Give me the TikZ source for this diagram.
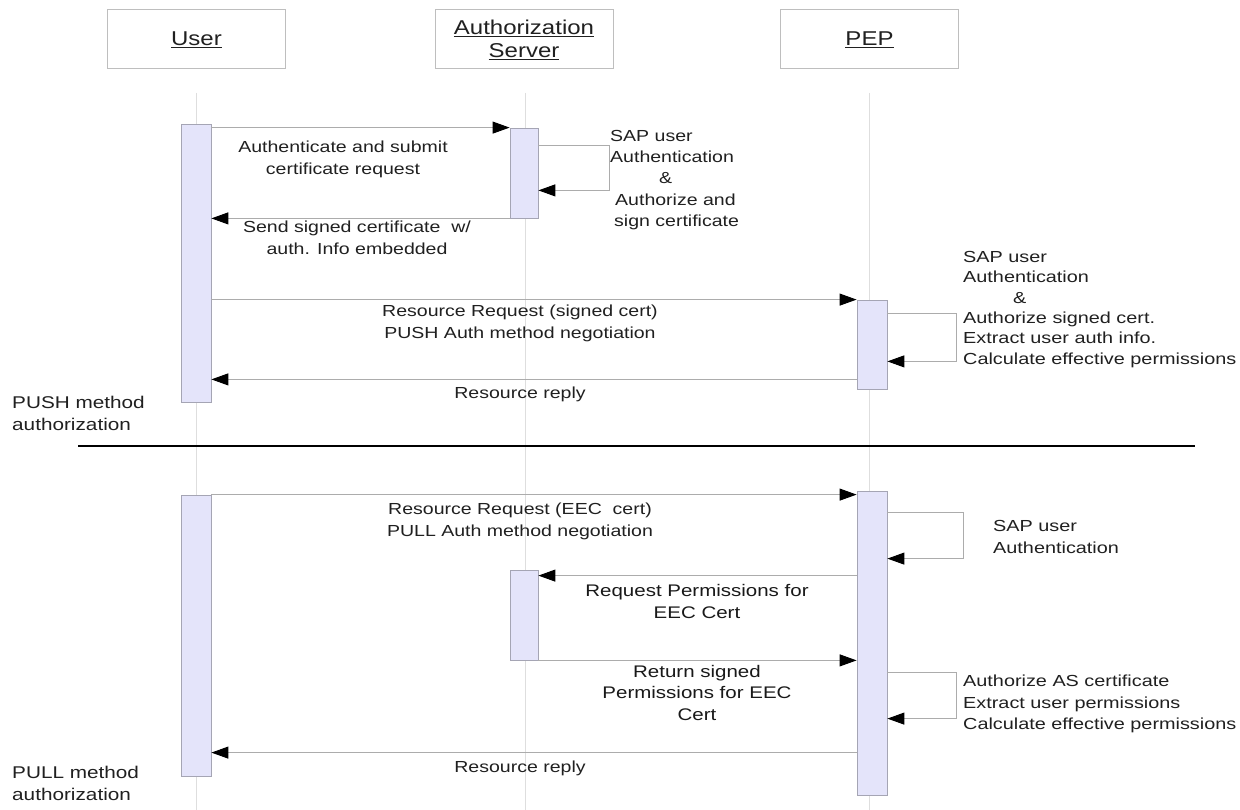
\documentclass[tikz,border=0pt]{standalone}
\usepackage{fontspec}
\setmainfont{Liberation Sans}
\newfontfamily\lblfont[FakeStretch=1.22]{Liberation Sans}
\newfontfamily\sidefont[FakeStretch=1.24]{Liberation Sans}
\newfontfamily\hdrfont[FakeStretch=1.2]{Liberation Sans}
\usetikzlibrary{arrows.meta}

\definecolor{barfill}{RGB}{228,228,250}
\definecolor{barline}{RGB}{165,165,180}
\definecolor{lifegray}{RGB}{222,222,222}
\definecolor{msggray}{RGB}{172,172,172}
\definecolor{txt}{RGB}{32,32,32}
\definecolor{boxgray}{RGB}{190,190,190}

\tikzset{
  hdrbox/.style={draw=boxgray, line width=1pt, minimum width=178pt, minimum height=59pt,
    inner sep=0pt, font=\hdrfont\fontsize{20}{23}\selectfont, text=txt, align=center},
  actbar/.style={draw=barline, fill=barfill, line width=0.8pt, minimum width=29pt, inner sep=0pt},
  lifeline/.style={draw=lifegray, line width=0.9pt},
  msg/.style={draw=msggray, line width=1pt, -{Triangle[length=17pt,width=12pt,color=black]}},
  selfmsg/.style={msg},
  lbl/.style={font=\lblfont\fontsize{16}{22}\selectfont, text=txt, inner sep=0pt, align=center, anchor=north},
  lbll/.style={lbl, align=left, anchor=north west},
  notelbl/.style={lbll, font=\sidefont\fontsize{16}{21}\selectfont},
  biglbl/.style={lbl, font=\lblfont\fontsize{16.8}{22.5}\selectfont, text=black!90},
  sidelbl/.style={lbll, font=\lblfont\fontsize{17}{22}\selectfont},
  divider/.style={draw=black, line width=1.8pt}
}

\begin{document}
\begin{tikzpicture}[x=1pt,y=-1pt]
\useasboundingbox (0,0) rectangle (1240,810);
\fill[white] (0,0) rectangle (1240,810);
\clip (0,0) rectangle (1240,810);

% participants
\node[hdrbox] (hUser) at (196.5,39.5) {\underline{User}};
\node[hdrbox] (hAS)   at (524,39.5)   {\underline{Authorization}\\\underline{Server}};
\node[hdrbox] (hPEP)  at (869.5,39.5) {\underline{PEP}};

% lifelines
\coordinate (luTop) at (196,93);  \coordinate (luBot) at (196,810);
\coordinate (laTop) at (525,93);  \coordinate (laBot) at (525,810);
\coordinate (lpTop) at (869,93);  \coordinate (lpBot) at (869,810);
\draw[lifeline] (luTop) -- (luBot);
\draw[lifeline] (laTop) -- (laBot);
\draw[lifeline] (lpTop) -- (lpBot);

% activation bars
\node[actbar, minimum width=30pt, minimum height=278pt] (u1)  at (196,263) {};
\node[actbar, minimum width=28pt, minimum height=90pt]  (as1) at (524,173) {};
\node[actbar, minimum width=30pt, minimum height=89pt]  (p1)  at (872,344.5) {};
\node[actbar, minimum width=30pt, minimum height=281pt] (u2)  at (196,635.5) {};
\node[actbar, minimum width=30pt, minimum height=304pt] (p2)  at (872,643) {};
\node[actbar, minimum width=28pt, minimum height=90pt]  (as2) at (524,615) {};

% ---- PUSH method ----
\draw[msg] (u1.east |- as1.north west) -- (as1.north west);
\node[lbl] (t1) at (343,141) {Authenticate and submit\\certificate request};

\draw[msg] (as1.south west) -- (u1.east |- as1.south west);
\node[lbl] (t2) at (357,221) {Send signed certificate\ \ w/\\auth. Info embedded};

\coordinate (s1a) at ([yshift=-18pt]as1.north east);
\coordinate (s1b) at ([yshift=28pt]as1.south east);
\draw[selfmsg] (s1a) -- ++(71,0) |- (s1b);
\node[lbll, font=\lblfont\fontsize{16}{21.25}\selectfont] (t3) at (610,130)
  {SAP user\\Authentication\\\hspace*{49pt}\&\\\hspace*{5pt}Authorize and\\\hspace*{4pt}sign certificate};

\draw[msg] (u1.east |- p1.north west) -- (p1.north west);
\node[lbl] (t4) at (520,305) {Resource Request (signed cert)\\PUSH Auth method negotiation};

\coordinate (s2a) at ([yshift=-14pt]p1.north east);
\coordinate (s2b) at ([yshift=28pt]p1.south east);
\draw[selfmsg] (s2a) -- ++(69,0) |- (s2b);
\node[notelbl, font=\sidefont\fontsize{16}{20.4}\selectfont] (t5) at (963,251)
  {SAP user\\Authentication\\\hspace*{50pt}\&\\Authorize signed cert.\\Extract user auth info.\\Calculate effective permissions};

\coordinate (m4) at ([yshift=10pt]p1.south west);
\draw[msg] (m4) -- (m4 -| u1.east);
\node[lbl] (t6) at (520,387) {Resource reply};

\node[sidelbl] (t7) at (12,396) {PUSH method\\authorization};

% divider between the two methods
\coordinate (dvL) at (78,446);
\coordinate (dvR) at (1195,446);
\draw[divider] (dvL) -- (dvR);

% ---- PULL method ----
\draw[msg] (u2.north east) -- (p2.west |- u2.north east);
\node[lbl] (t8) at (520,503) {Resource Request (EEC\ \ cert)\\PULL Auth method negotiation};

\coordinate (s3a) at ([yshift=-22pt]p2.north east);
\coordinate (s3b) at ([yshift=-68pt]p2.north east);
\draw[selfmsg] (s3a) -- ++(76,0) |- (s3b);
\node[notelbl, font=\sidefont\fontsize{16}{22}\selectfont] (t9) at (993,520) {SAP user\\Authentication};

\coordinate (m6) at ([yshift=-85pt]p2.north west);
\draw[msg] (m6) -- (m6 -| as2.east);
\node[biglbl] (t10) at (697,584) {Request Permissions for\\EEC Cert};

\draw[msg] (as2.south east) -- (p2.west |- as2.south east);
\node[biglbl, font=\lblfont\fontsize{16.8}{21.5}\selectfont] (t11) at (697,665) {Return signed\\Permissions for EEC\\Cert};

\coordinate (s4a) at ([yshift=-182pt]p2.north east);
\coordinate (s4b) at ([yshift=-228pt]p2.north east);
\draw[selfmsg] (s4a) -- ++(69,0) |- (s4b);
\node[notelbl, font=\sidefont\fontsize{16}{21.5}\selectfont] (t12) at (963,675)
  {Authorize AS certificate\\Extract user permissions\\Calculate effective permissions};

\coordinate (m8) at ([yshift=-262pt]p2.north west);
\draw[msg] (m8) -- (m8 -| u2.east);
\node[lbl] (t13) at (520,761) {Resource reply};

\node[sidelbl] (t14) at (12,766) {PULL method\\authorization};
\end{tikzpicture}
\end{document}
